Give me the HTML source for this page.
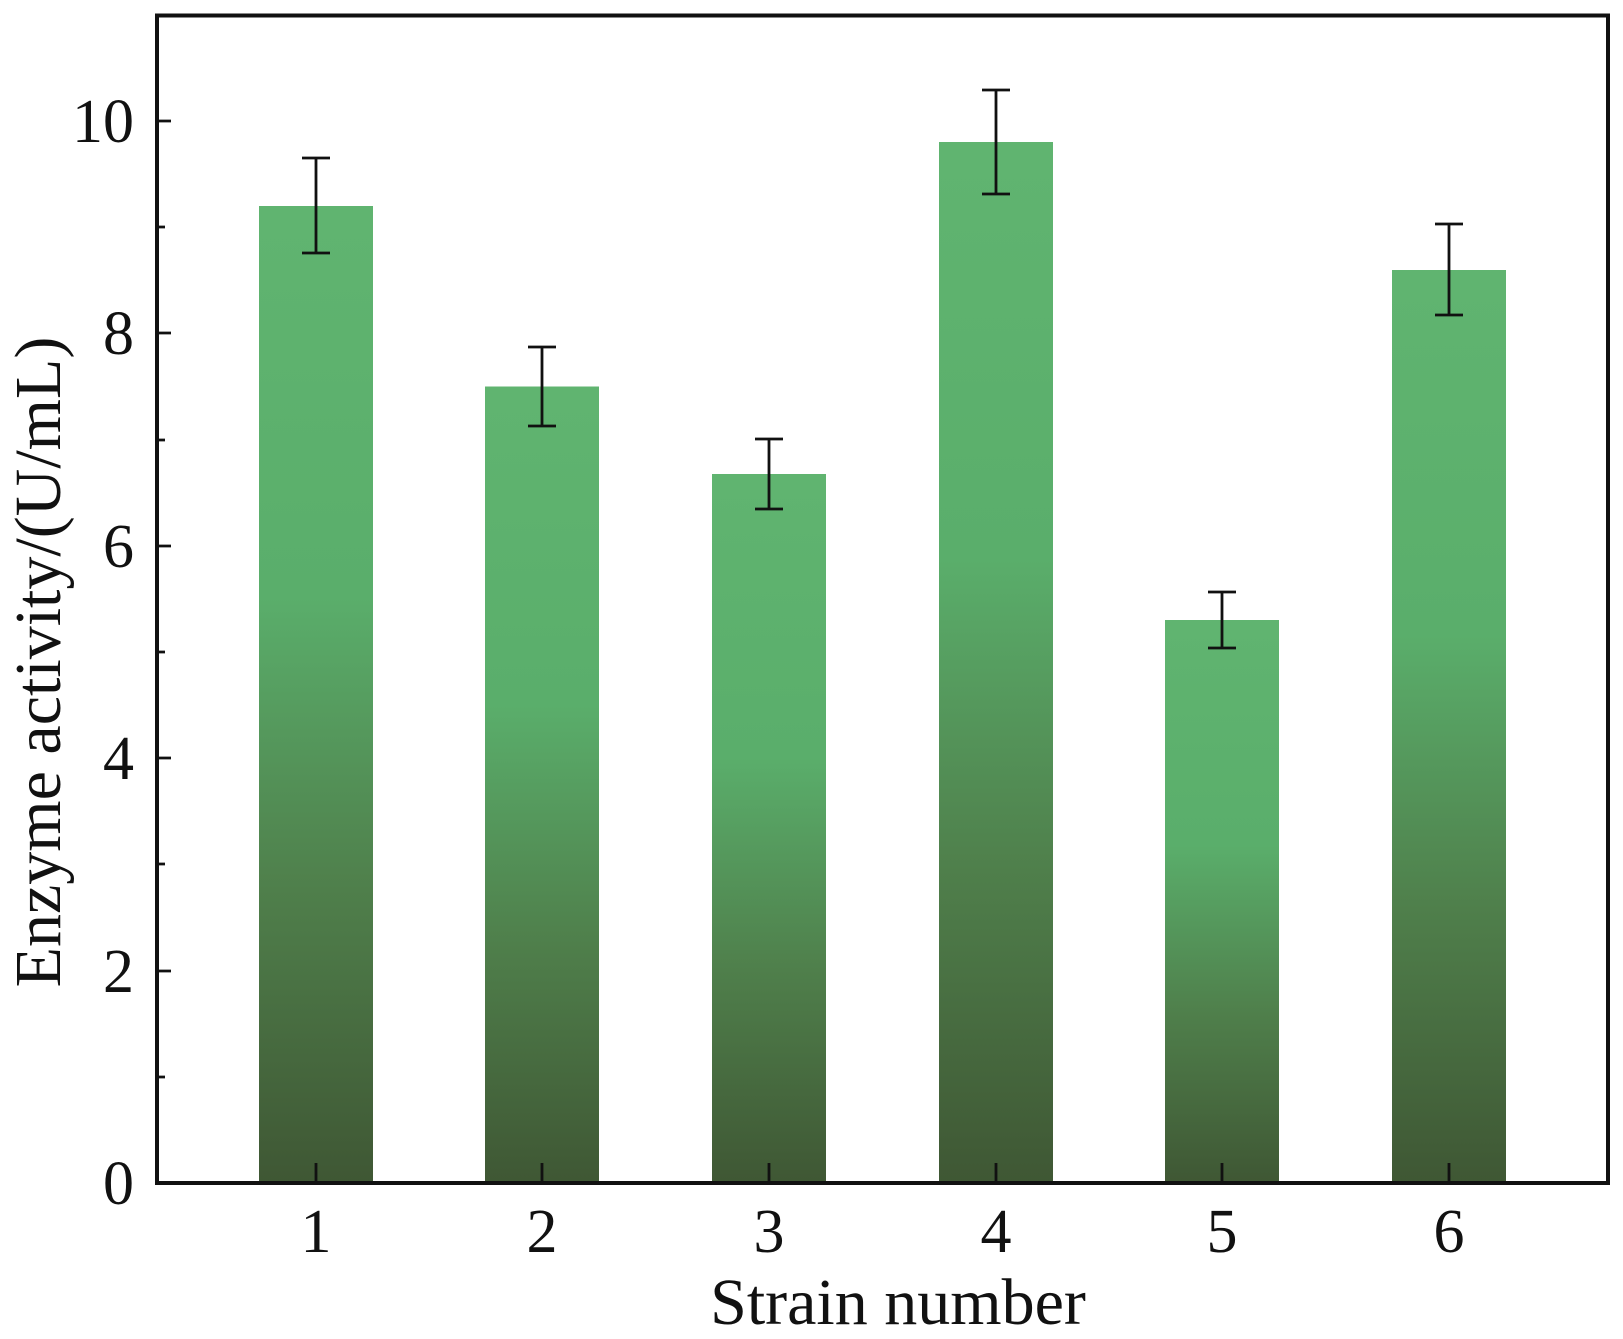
<!DOCTYPE html>
<html><head><style>body{margin:0;background:#fff}</style></head><body>
<svg width="1623" height="1334" xmlns="http://www.w3.org/2000/svg" font-family="Liberation Serif, serif">
<defs><linearGradient id="g" x1="0" y1="0" x2="0" y2="1">
<stop offset="0" stop-color="#60b470"/><stop offset="0.4" stop-color="#5aae6b"/><stop offset="0.7" stop-color="#4f7f4b"/><stop offset="1" stop-color="#3f5734"/></linearGradient></defs>
<g fill="url(#g)">
<rect x="259" y="206" width="114" height="977"/>
<rect x="485" y="386.5" width="114" height="796.5"/>
<rect x="712" y="474" width="114" height="709"/>
<rect x="939" y="142" width="114" height="1041"/>
<rect x="1165" y="620" width="114" height="563"/>
<rect x="1392" y="270" width="114" height="913"/>
</g>
<g stroke="#111" stroke-width="2.8">
<path d="M316 158V253M302 158H330M302 253H330"/>
<path d="M542 347V426M528 347H556M528 426H556"/>
<path d="M769 439V509M755 439H783M755 509H783"/>
<path d="M996 90V194M982 90H1010M982 194H1010"/>
<path d="M1222 592V648M1208 592H1236M1208 648H1236"/>
<path d="M1449 224V315M1435 224H1463M1435 315H1463"/>
<path d="M316 1183V1163M542 1183V1163M769 1183V1163M996 1183V1163M1222 1183V1163M1449 1183V1163"/>
<path d="M155 1183H171M155 971H171M155 758H171M155 546H171M155 333H171M155 121H171"/>
<path d="M155 1077H165M155 864H165M155 652H165M155 440H165M155 227H165"/>
</g>
<rect x="157" y="15.5" width="1451" height="1167.5" fill="none" stroke="#111" stroke-width="4"/>
<g font-size="62" fill="#111" text-anchor="end">
<text x="134" y="1204">0</text><text x="134" y="992">2</text><text x="134" y="779">4</text>
<text x="134" y="567">6</text><text x="134" y="354">8</text><text x="134" y="142">10</text>
</g>
<g font-size="62" fill="#111" text-anchor="middle">
<text x="316" y="1252">1</text><text x="542" y="1252">2</text><text x="769" y="1252">3</text>
<text x="996" y="1252">4</text><text x="1222" y="1252">5</text><text x="1449" y="1252">6</text>
<text x="898" y="1324" font-size="66">Strain number</text>
<text transform="translate(60,662) rotate(-90)" font-size="66">Enzyme activity/(U/mL)</text>
</g>
</svg>
</body></html>
